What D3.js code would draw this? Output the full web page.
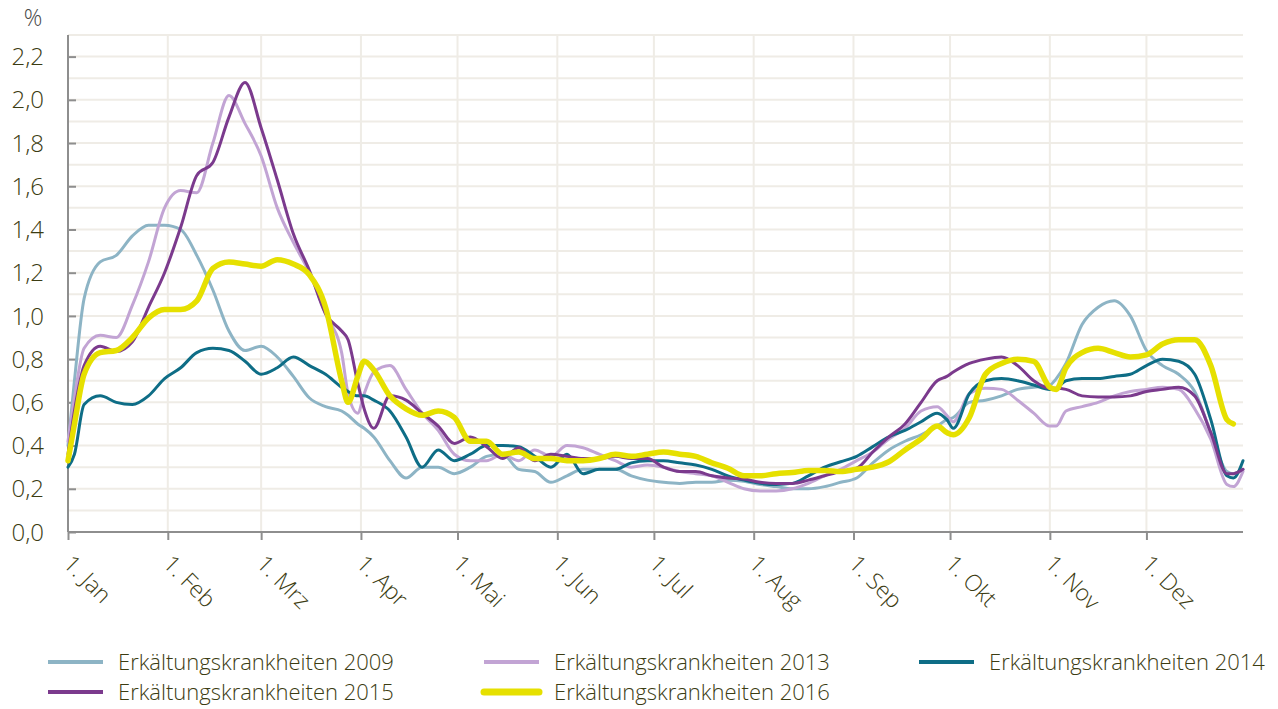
<!DOCTYPE html>
<html>
<head>
<meta charset="utf-8">
<script src="https://cdn.jsdelivr.net/npm/d3@7"></script>
<style>
  body { margin: 0; background: #fff; }
  svg text { font-family: "Open Sans", sans-serif; font-weight: 300; fill: #3c3c12; }
</style>
</head>
<body>
<div id="chart"></div>
<script>
// day of year (2016) for every sample point
const days = [0,2,5,10,15,20,25,30,35,40,45,50,55,60,65,70,75,80,85,87,90,92,95,100,105,110,115,120,125,130,135,140,145,150,155,160,165,170,175,180,185,190,195,200,205,210,215,220,225,230,235,240,245,250,255,260,265,270,273,275,280,285,290,295,300,305,307,310,315,320,325,330,335,340,345,350,355,360,362,365];

const val2009 = [0.40,0.70,1.08,1.25,1.28,1.37,1.42,1.42,1.40,1.28,1.12,0.93,0.84,0.86,0.81,0.72,0.62,0.58,0.56,0.54,0.50,0.48,0.44,0.33,0.25,0.30,0.30,0.27,0.30,0.35,0.36,0.29,0.28,0.23,0.26,0.29,0.29,0.29,0.26,0.24,0.23,0.225,0.23,0.23,0.24,0.235,0.22,0.21,0.20,0.20,0.21,0.23,0.25,0.32,0.38,0.42,0.45,0.49,0.52,0.53,0.60,0.61,0.63,0.66,0.67,0.68,0.71,0.78,0.96,1.04,1.07,1.00,0.84,0.77,0.73,0.65,0.46,0.28,0.27,0.29];
const val2013 = [0.42,0.62,0.85,0.91,0.90,1.05,1.25,1.50,1.58,1.57,1.80,2.02,1.89,1.74,1.50,1.34,1.20,1.01,0.83,0.64,0.55,0.64,0.74,0.77,0.66,0.55,0.47,0.36,0.33,0.33,0.36,0.33,0.38,0.35,0.40,0.39,0.36,0.33,0.30,0.31,0.30,0.28,0.27,0.26,0.23,0.20,0.19,0.19,0.20,0.225,0.26,0.29,0.33,0.37,0.43,0.48,0.56,0.58,0.54,0.51,0.64,0.665,0.66,0.61,0.55,0.49,0.49,0.56,0.58,0.60,0.63,0.65,0.66,0.67,0.66,0.57,0.43,0.22,0.21,0.28];
const val2014 = [0.30,0.36,0.59,0.63,0.60,0.59,0.63,0.71,0.76,0.83,0.85,0.84,0.79,0.73,0.76,0.81,0.77,0.73,0.67,0.65,0.63,0.63,0.61,0.56,0.44,0.30,0.38,0.33,0.36,0.40,0.40,0.395,0.35,0.30,0.36,0.27,0.29,0.29,0.32,0.33,0.33,0.32,0.31,0.29,0.26,0.24,0.225,0.22,0.225,0.26,0.30,0.325,0.35,0.395,0.44,0.47,0.51,0.55,0.52,0.48,0.64,0.70,0.71,0.70,0.68,0.66,0.665,0.70,0.71,0.71,0.72,0.73,0.77,0.80,0.79,0.73,0.52,0.26,0.25,0.33];
const val2015 = [0.36,0.56,0.77,0.86,0.835,0.88,1.04,1.20,1.41,1.65,1.71,1.92,2.08,1.87,1.63,1.38,1.21,1.01,0.93,0.89,0.69,0.57,0.48,0.63,0.61,0.55,0.49,0.41,0.44,0.395,0.34,0.39,0.33,0.36,0.35,0.34,0.34,0.35,0.34,0.34,0.30,0.28,0.28,0.26,0.25,0.245,0.23,0.225,0.225,0.24,0.26,0.28,0.295,0.37,0.44,0.50,0.60,0.70,0.72,0.74,0.78,0.80,0.81,0.77,0.70,0.665,0.665,0.66,0.63,0.625,0.625,0.63,0.65,0.66,0.67,0.63,0.46,0.27,0.27,0.29];
const val2016 = [0.33,0.50,0.73,0.83,0.84,0.90,0.99,1.03,1.03,1.07,1.22,1.25,1.24,1.23,1.26,1.24,1.19,1.04,0.70,0.60,0.72,0.79,0.75,0.63,0.57,0.54,0.56,0.53,0.42,0.42,0.36,0.37,0.34,0.34,0.33,0.33,0.34,0.36,0.35,0.36,0.37,0.36,0.35,0.32,0.295,0.26,0.26,0.27,0.275,0.285,0.285,0.28,0.29,0.30,0.325,0.38,0.43,0.49,0.46,0.45,0.53,0.73,0.78,0.80,0.79,0.67,0.66,0.76,0.83,0.85,0.83,0.81,0.82,0.87,0.89,0.89,0.77,0.52,0.50,null];

const seriesNames = ["Erkältungskrankheiten 2009", "Erkältungskrankheiten 2013", "Erkältungskrankheiten 2014", "Erkältungskrankheiten 2015", "Erkältungskrankheiten 2016"];
const seriesColors = ["#8db4c5", "#c2a4d4", "#0e6d86", "#7b3a8d", "#e6e000"];
const seriesWidths = [3, 3, 3, 3, 5.5];
const seriesValues = [val2009, val2013, val2014, val2015, val2016];

const monthLabels = ["1. Jan","1. Feb","1. Mrz","1. Apr","1. Mai","1. Jun","1. Jul","1. Aug","1. Sep","1. Okt","1. Nov","1. Dez"];
const yTicks = [0,0.2,0.4,0.6,0.8,1.0,1.2,1.4,1.6,1.8,2.0,2.2];

const W = 1278, H = 709;
const margin = {top: 35, right: 35, bottom: 177, left: 68};
const start = new Date(2016, 0, 1);

const svg = d3.select("#chart").append("svg")
    .attr("width", W)
    .attr("height", H);

const x = d3.scaleTime()
    .domain([start, new Date(2016, 11, 31)])
    .range([margin.left, W - margin.right]);
const y = d3.scaleLinear()
    .domain([0, 2.3])
    .range([H - margin.bottom, margin.top]);

const months = d3.timeMonth.range(start, new Date(2017, 0, 1));
const fmt = d => d3.format(".1f")(d).replace(".", ",");

// horizontal grid every 0.1
svg.append("g")
    .selectAll("line")
    .data(d3.range(1, 24).map(i => i / 10))
    .join("line")
    .attr("x1", x.range()[0]).attr("x2", x.range()[1])
    .attr("y1", d => y(d)).attr("y2", d => y(d))
    .attr("stroke", "#efece6")
    .attr("stroke-width", 2);

// vertical grid at month starts
svg.append("g")
    .selectAll("line")
    .data(months.slice(1))
    .join("line")
    .attr("x1", d => x(d)).attr("x2", d => x(d))
    .attr("y1", y(0)).attr("y2", y(2.3))
    .attr("stroke", "#efece6")
    .attr("stroke-width", 2);

// y axis
const yAxis = svg.append("g")
    .attr("transform", `translate(${margin.left},0)`)
    .call(d3.axisRight(y).tickValues(yTicks).tickSize(8).tickFormat(""));
yAxis.select(".domain").attr("stroke", "#8e8e8e").attr("stroke-width", 2)
    .attr("d", `M0,${y(2.3)}V${y(0)}`);
yAxis.selectAll(".tick line").attr("stroke", "#8e8e8e").attr("stroke-width", 2);

svg.append("g")
    .selectAll("text")
    .data(yTicks)
    .join("text")
    .attr("x", 44)
    .attr("y", d => y(d))
    .attr("dy", "0.36em")
    .attr("text-anchor", "end")
    .style("font-size", "24px")
    .text(fmt);

svg.append("text")
    .attr("x", 33).attr("y", 18)
    .attr("dy", "0.36em")
    .attr("text-anchor", "middle")
    .style("font-size", "23px")
    .style("fill", "#4a4a4a")
    .text("%");

// x axis
const xAxis = svg.append("g")
    .attr("transform", `translate(0,${y(0)})`)
    .call(d3.axisBottom(x).tickValues(months).tickSize(8).tickFormat(""));
xAxis.select(".domain").attr("stroke", "#8e8e8e").attr("stroke-width", 2)
    .attr("d", `M${x.range()[0]},0H${x.range()[1]}`);
xAxis.selectAll(".tick line").attr("stroke", "#8e8e8e").attr("stroke-width", 2);

svg.append("g")
    .selectAll("text")
    .data(months)
    .join("text")
    .attr("transform", d => `translate(${x(d) - 6},${y(0) + 33}) rotate(45)`)
    .style("font-size", "23px")
    .text((d, i) => monthLabels[i]);

// lines
const line = d3.line()
    .defined(d => d[1] !== null)
    .x(d => x(d3.timeDay.offset(start, d[0])))
    .y(d => y(d[1]))
    .curve(d3.curveMonotoneX);

seriesValues.forEach((vals, i) => {
    svg.append("path")
        .datum(days.map((d, j) => [d, vals[j]]))
        .attr("fill", "none")
        .attr("stroke", seriesColors[i])
        .attr("stroke-width", seriesWidths[i])
        .attr("stroke-linejoin", "round")
        .attr("stroke-linecap", "round")
        .attr("d", line);
});

// legend
const legendPos = [[48, 662], [484, 662], [919, 662], [48, 692], [484, 692]];
const legend = svg.append("g")
    .selectAll("g")
    .data(seriesNames)
    .join("g")
    .attr("transform", (d, i) => `translate(${legendPos[i][0]},${legendPos[i][1]})`);
legend.append("line")
    .attr("x1", 0).attr("x2", 55)
    .attr("stroke", (d, i) => seriesColors[i])
    .attr("stroke-width", (d, i) => i === 4 ? 7 : 4)
    .attr("stroke-linecap", (d, i) => i === 4 ? "round" : "butt");
legend.append("text")
    .attr("x", 70)
    .attr("dy", "0.36em")
    .style("font-size", "22px")
    .text(d => d);
</script>
</body>
</html>
